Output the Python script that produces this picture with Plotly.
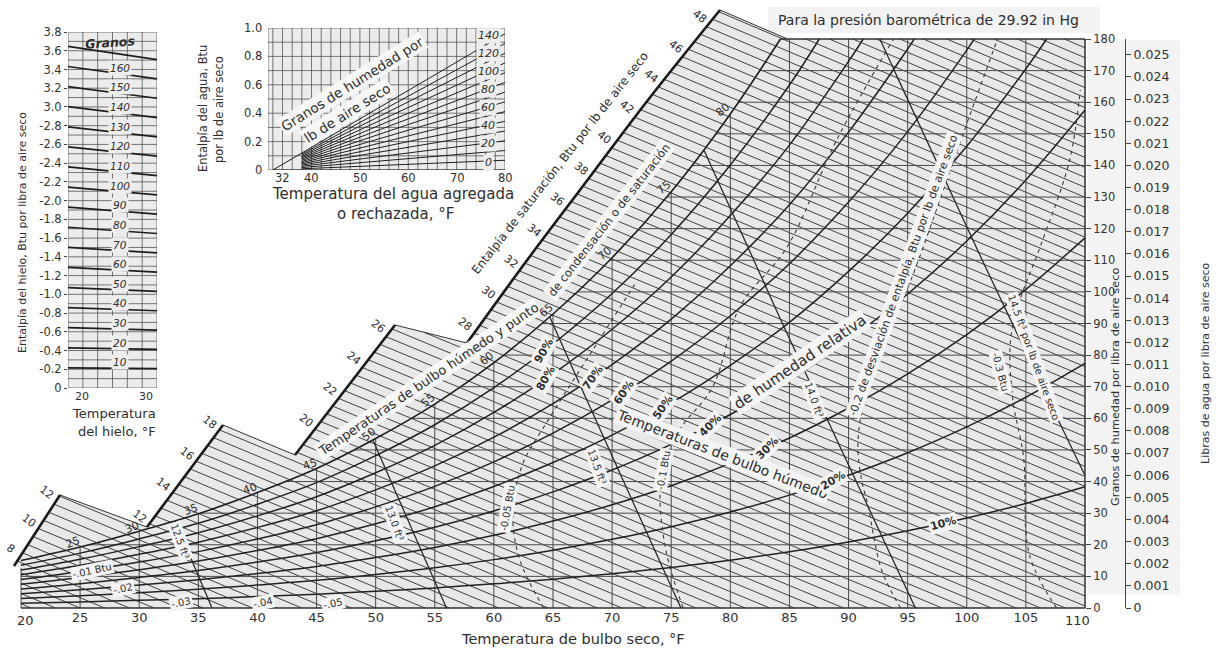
import numpy as np
import plotly.graph_objects as go

# ---------------- values ----------------
dry_bulb_ticks = [20, 25, 30, 35, 40, 45, 50, 55, 60, 65, 70, 75, 80, 85, 90, 95, 100, 105, 110]
grain_ticks = [0, 10, 20, 30, 40, 50, 60, 70, 80, 90, 100, 110, 120, 130, 140, 150, 160, 170, 180]
lb_ticks = [0.000, 0.001, 0.002, 0.003, 0.004, 0.005, 0.006, 0.007, 0.008, 0.009, 0.010, 0.011, 0.012,
            0.013, 0.014, 0.015, 0.016, 0.017, 0.018, 0.019, 0.020, 0.021, 0.022, 0.023, 0.024, 0.025]
lb_tick_text = ["0"] + ["%.3f" % v for v in lb_ticks[1:]]

# saturation humidity (grains per lb dry air) at the dry-bulb temperatures
sat_temp = [20, 25, 30, 35, 40, 45, 50, 55, 60, 65, 70, 75, 80, 85, 90, 95, 100, 105, 110]
sat_grains = [15.0, 19.3, 24.3, 29.8, 36.5, 44.1, 53.6, 64.5, 77.6, 93.0, 110.8, 131.7, 156.3,
              184.6, 218.3, 257.1, 302.3, 355.1, 416.4]

rh_levels = [10, 20, 30, 40, 50, 60, 70, 80, 90]
rh_label_T = [98.0, 88.7, 83.1, 78.3, 74.3, 71.0, 68.4, 64.4, 64.2]

volume_levels = [12.5, 13.0, 13.5, 14.0, 14.5]
volume_labels = ["12.5 ft³", "13.0 ft³", "13.5 ft³", "14.0 ft³", "14.5 ft³ por lb de aire seco"]

enthalpy_hatch = [5.0 + 0.5 * i for i in range(100)]
wet_bulb_labels = [25, 30, 35, 40, 45, 50, 55, 60, 65, 70, 75, 80]

scale_A = [8, 10, 12]
scale_B = [12, 14, 16, 18]
scale_C = [20, 22, 24, 26]
scale_D = [28, 30, 32, 34, 36, 38, 40, 42, 44, 46, 48]

# enthalpy-deviation curves (dashed): dry bulb F, grains
dev005_T = [64.2, 62.2, 61.6, 62.4, 64.6, 68.1, 71.9]
dev005_G = [0.0, 15.2, 29.4, 45.2, 59.5, 80.1, 102.3]
dev01_T = [76.0, 74.6, 74.05, 74.3, 75.7, 78.5, 80.8, 84.8, 89.0, 93.8]
dev01_G = [0.0, 17.4, 34.2, 43.7, 56.3, 69.9, 95.2, 114.2, 148.1, 180.0]
dev02_T = [94.4, 92.8, 91.6, 91.1, 90.8, 91.8, 95.5, 99.2, 102.6]
dev02_G = [0.0, 12.0, 33.2, 40.5, 53.1, 72.1, 106.0, 144.9, 180.0]
dev03_T = [107.6, 105.3, 104.8, 103.9, 103.7, 104.5, 106.2, 108.7, 109.6]
dev03_G = [0.0, 16.8, 47.8, 65.8, 84.8, 97.4, 114.2, 141.7, 163.9]

# ice-enthalpy inset
ice_grains = [10, 20, 30, 40, 50, 60, 70, 80, 90, 100, 110, 120, 130, 140, 150, 160, 170]
ice_label_grains = [10, 20, 30, 40, 50, 60, 70, 80, 90, 100, 110, 120, 130, 140, 150, 160]
ice_y_ticks = [0, 0.2, 0.4, 0.6, 0.8, 1.0, 1.2, 1.4, 1.6, 1.8, 2.0, 2.2, 2.4, 2.6, 2.8, 3.0, 3.2, 3.4, 3.6, 3.8]
ice_y_text = ["0", "-0.2", "-0.4", "-0.6", "-0.8", "-1.0", "-1.2", "-1.4", "-1.6", "-1.8", "-2.0",
              "-2.2", "-2.4", "-2.6", "-2.8", "3.0", "3.2", "3.4", "3.6", "3.8"]
ice_x_ticks = [20, 30]

# water-enthalpy inset
water_grains = [10, 20, 30, 40, 50, 60, 70, 80, 90, 100, 110, 120, 130, 140]
water_label_grains = [0, 20, 40, 60, 80, 100, 120, 140]
water_x_ticks = [32, 40, 50, 60, 70, 80]
water_y_ticks = [0, 0.2, 0.4, 0.6, 0.8, 1.0]
water_y_text = ["0", "0.2", "0.4", "0.6", "0.8", "1.0"]

# ---------------- geometry helpers ----------------
W, H = 1221, 650
FONT = "DejaVu Sans"
INK = "#2e2e2e"
MX0, MX1, MY0, MY1 = 21.0, 1085.0, 608.0, 39.0          # pixel frame of 20..110 F, 0..180 gr
SX = (MX1 - MX0) / 90.0
SY = (MY0 - MY1) / 180.0
x_range = [20 - MX0 / SX, 20 + (W - MX0) / SX]
y_range = [-(H - MY0) / SY, MY0 / SY]


def T_of_px(px):
    return 20 + (px - MX0) / SX


def G_of_py(py):
    return (MY0 - py) / SY


P_ATM = 14.696
lsT = np.array(sat_temp, float)
lsG = np.log(np.array(sat_grains, float))


def gsat(T):
    return np.exp(np.interp(T, lsT, lsG))


def tsat(G):
    return np.interp(np.log(np.maximum(G, 1e-6)), lsG, lsT)


def enth(T, G):
    w = G / 7000.0
    return 0.24 * T + w * (1061.0 + 0.444 * T)


def rh_grains(T, phi):
    ws = gsat(T) / 7000.0
    ps = P_ATM * ws / (0.622 + ws)
    return 7000.0 * 0.622 * phi * ps / (P_ATM - phi * ps)


def joined(segments):
    xs, ys = [], []
    for sx_, sy_ in segments:
        xs += list(sx_) + [None]
        ys += list(sy_) + [None]
    return xs, ys


fig = go.Figure()


def line_trace(xs, ys, color, width, dash=None, shape="linear", axes=("x", "y")):
    fig.add_trace(go.Scatter(x=xs, y=ys, mode="lines", xaxis=axes[0], yaxis=axes[1],
                             line=dict(color=color, width=width, dash=dash, shape=shape),
                             hoverinfo="skip", showlegend=False))


# ---------------- left boundary (stepped enthalpy scale) ----------------
scale_px = {
    "A": [(14, 566), (60, 495)],
    "B": [(147, 527), (223, 425)],
    "C": [(295, 455), (395, 325)],
    "D": [(467, 343), (525, 263), (583, 186), (648, 100), (720, 10)],
}
bnd_px = [(21, 608), (21, 568)] + scale_px["A"] + scale_px["B"] + scale_px["C"] + scale_px["D"]
bnd = [(T_of_px(a), G_of_py(b)) for a, b in bnd_px]
h_top = enth(*bnd[-1])
w180 = 180.0 / 7000.0
T_top = (h_top - w180 * 1061.0) / (0.24 + w180 * 0.444)
bnd.append((T_top, 180.0))
bnd.append((110.0, 180.0))

# region fill
poly = bnd + [(110.0, 0.0), (20.0, 0.0)]
fig.add_trace(go.Scatter(x=[p[0] for p in poly], y=[p[1] for p in poly], mode="lines", fill="toself",
                         fillcolor="#e8e8e8", line=dict(width=0), hoverinfo="skip", showlegend=False))

# enthalpy hatch lines
h_110 = enth(110.0, 0.0)
segs = []
for h in enthalpy_hatch:
    start = None
    for p0, p1 in zip(bnd[:-1], bnd[1:]):
        h0, h1 = enth(*p0), enth(*p1)
        if abs(h1 - h0) < 1e-9:
            continue
        t = (h - h0) / (h1 - h0)
        if 0.0 <= t <= 1.0:
            start = (p0[0] + t * (p1[0] - p0[0]), p0[1] + t * (p1[1] - p0[1]))
            break
    if start is None:
        continue
    if h <= h_110:
        end = (h / 0.24, 0.0)
    else:
        end = (110.0, (h - h_110) / (1061.0 + 0.444 * 110.0) * 7000.0)
    segs.append(([start[0], end[0]], [start[1], end[1]]))
hx, hy = joined(segs)
line_trace(hx, hy, "#383838", 0.95)

# top edges joining the scale steps
edge_pairs = [(scale_px["A"][-1], scale_px["B"][0]), (scale_px["B"][-1], scale_px["C"][0]),
              (scale_px["C"][-1], scale_px["D"][0])]
ex, ey = joined([([T_of_px(a[0]), T_of_px(b[0])], [G_of_py(a[1]), G_of_py(b[1])]) for a, b in edge_pairs]
                + [([bnd[-3][0], T_top], [bnd[-3][1], 180.0])])
line_trace(ex, ey, "#333", 1.0)

# grid: constant dry bulb
gsegs = []
for T in dry_bulb_ticks[:-1]:
    top = G_of_py(568) if T == 20 else min(float(gsat(T)), 180.0)
    gsegs.append(([T, T], [0.0, top]))
# grid: constant moisture
for G in grain_ticks[1:-1]:
    gsegs.append(([max(float(tsat(G)), 20.0), 110.0], [G, G]))
gx, gy = joined(gsegs)
line_trace(gx, gy, "#4a4a4a", 1.0)

# borders
T180 = float(tsat(180.0))
bx, by = joined([([20, 110], [0, 0]), ([110, 110], [0, 180]), ([T180, 110], [180, 180])])
line_trace(bx, by, "#303030", 1.5)

# volume lines
for v in volume_levels:
    K = v * 29.92 / 0.7543
    G = np.linspace(0, 180, 721)
    T = K / (1 + 1.6078 * G / 7000.0) - 459.67
    ok = (T >= tsat(G)) & (T <= 110) & (T >= 20)
    line_trace(T[ok], G[ok], "#2a2a2a", 1.3)

# relative humidity curves
for rh in rh_levels:
    xs, ys = [], []
    for T in sat_temp:
        g = float(rh_grains(T, rh / 100.0))
        if g > 180.0:
            gp = ys[-1]
            Tp = xs[-1]
            t = (np.log(180.0) - np.log(gp)) / (np.log(g) - np.log(gp))
            xs.append(Tp + t * (T - Tp))
            ys.append(180.0)
            break
        xs.append(T)
        ys.append(g)
    line_trace(xs, ys, "#222", 1.5, shape="spline")

# enthalpy deviation curves
for Tl, Gl in [(dev005_T, dev005_G), (dev01_T, dev01_G), (dev02_T, dev02_G), (dev03_T, dev03_G)]:
    line_trace(Tl, Gl, "#3a3a3a", 1.1, dash="4px,4px", shape="spline")

# saturation curve
st = [t for t in sat_temp if t <= 80] + [T180]
line_trace(st, [float(gsat(t)) for t in st], "#1e1e1e", 1.6, shape="spline")

# heavy enthalpy scales
for k in "ABC":
    pts = scale_px[k]
    line_trace([T_of_px(p[0]) for p in pts], [G_of_py(p[1]) for p in pts], "#1a1a1a", 2.6)
line_trace([T_of_px(p[0]) for p in scale_px["D"]], [G_of_py(p[1]) for p in scale_px["D"]], "#1a1a1a", 2.6,
           shape="spline")

# ---------------- annotations ----------------
ann = []


def add_text(x, y, text, size, angle=0, ref="data", bg=None, color=INK, italic=False,
             xshift=0, yshift=0, xanchor="center", yanchor="middle"):
    if ref == "px":
        xr, yr, x, y = "paper", "paper", x / W, 1 - y / H
    elif ref == "data":
        xr, yr = "x", "y"
    else:
        xr, yr = ref
    d = dict(x=x, y=y, xref=xr, yref=yr, text=text, showarrow=False, textangle=angle,
             font=dict(family=FONT, size=size, color=color, style="italic" if italic else "normal"),
             xanchor=xanchor, yanchor=yanchor, xshift=xshift, yshift=yshift)
    if bg:
        d.update(bgcolor=bg, borderpad=1)
    ann.append(d)


def along(pts, frac):
    P = np.array(pts, float)
    d = np.r_[0, np.cumsum(np.hypot(*np.diff(P, axis=0).T))]
    s = frac * d[-1]
    return np.interp(s, d, P[:, 0]), np.interp(s, d, P[:, 1])


# edge tick labels of the dry-bulb axis sit inside the frame
add_text(25, 620, str(dry_bulb_ticks[0]), 13, ref="px")
add_text(1077, 620, str(dry_bulb_ticks[-1]), 13, ref="px")

# text along the chart
add_text(928, 20, "Para la presión barométrica de 29.92 in Hg", 14, ref="px")
add_text(573, 639, "Temperatura de bulbo seco, °F", 14.5, ref="px")
add_text(1115, 387, "Granos de humedad por libra de aire seco", 11.3, angle=-90, ref="px")
add_text(1205, 363, "Libras de agua por libra de aire seco", 11, angle=-90, ref="px")
add_text(560, 163, "Entalpía de saturación, Btu por lb de aire seco", 12, angle=-52, ref="px")
add_text(428, 379, "Temperaturas de bulbo húmedo y punto", 13, angle=-34, ref="px", bg="#f7f7f7")
add_text(609, 220, "de condensación o de saturación", 11.5, angle=-52, ref="px", bg="#f7f7f7")
add_text(722, 454, "Temperaturas de bulbo húmedo", 14, angle=21, ref="px", bg="#f4f4f4")
add_text(800, 362, "de humedad relativa", 15, angle=-34, ref="px", bg="#f4f4f4")
add_text(507, 508, "-0.05 Btu", 10, angle=-80, ref="px", bg="#f4f4f4")
add_text(663, 470, "-0.1 Btu", 10, angle=-80, ref="px", bg="#f4f4f4")
add_text(903, 275, "-0.2 de desviación de entalpía, Btu por lb de aire seco", 11, angle=-70, ref="px",
         bg="#f4f4f4")
add_text(1001, 372, "-0.3 Btu", 10, angle=75, ref="px", bg="#f4f4f4")
for txt, px, py in [("-.01 Btu", 92, 570), ("-.02", 123, 588), ("-.03", 181, 602), ("-.04", 263, 602),
                    ("-.05", 333, 603)]:
    add_text(px, py, txt, 10, angle=-12, ref="px", bg="#f4f4f4")

nominal = {"A": (7.0, 12.0), "B": (11.5, 18.0), "C": (18.0, 26.3), "D": (27.0, 48.6)}
for k, labs in [("A", scale_A), ("B", scale_B), ("C", scale_C), ("D", scale_D)]:
    v0, v1 = nominal[k]
    for v in labs:
        px, py = along(scale_px[k], (v - v0) / (v1 - v0))
        add_text(max(px - 13, 7), py - 3, str(v), 11, angle=38, ref="px")

for t in wet_bulb_labels:
    add_text(t, float(gsat(t)), str(t), 11, angle=(-40 if t >= 50 else -20), xshift=-7, yshift=4)

vol_G = [20.9, 26.9, 44.6, 65.8, 79.4]
vol_dx = [-4, -15, -19, -3, 6]
for v, lab, g, dx in zip(volume_levels, volume_labels, vol_G, vol_dx):
    K = v * 29.92 / 0.7543
    T = K / (1 + 1.6078 * g / 7000.0) - 459.67
    add_text(T, g, lab, 10, angle=70, xshift=dx, bg="#f4f4f4")

rh_angles = [-15, -30, -45, -45, -55, -55, -55, -60, -60]
for rh, tl, ang in zip(rh_levels, rh_label_T, rh_angles):
    add_text(tl, float(rh_grains(tl, rh / 100.0)), "<b>%d%%</b>" % rh, 11, angle=ang, bg="#f4f4f4")

# ---------------- ice inset ----------------
ICE_X = (68, 157)
ICE_Y = (388, 32)
isegs = []
for T in [18, 20, 22, 24, 26, 28, 30]:
    isegs.append(([T, T], [0, 3.8]))
for i in range(39):
    isegs.append(([18, 30], [i * 0.1, i * 0.1]))
ix, iy = joined(isegs)
line_trace(ix, iy, "#555", 0.8, axes=("x4", "y4"))
gl = []
for g in ice_grains:
    gl.append(([18, 30], [g / 7000.0 * (143.35 + 0.485 * (32 - 18)),
                          g / 7000.0 * (143.35 + 0.485 * (32 - 30))]))
gx2, gy2 = joined(gl)
line_trace(gx2, gy2, "#1e1e1e", 1.7, axes=("x4", "y4"))
for g in ice_label_grains:
    add_text(25, g / 7000.0 * (143.35 + 0.485 * 7), str(g), 10.5, ref=("x4", "y4"), italic=True,
             yshift=6, bg="#ededed")
add_text(110, 42, "<b>Granos</b>", 12.5, angle=-4, ref="px", italic=True)
for v, px in zip(ice_x_ticks, [82, 146]):
    add_text(px, 396, str(v), 11, ref="px")
add_text(114, 413, "Temperatura", 13, ref="px")
add_text(117, 431, "del hielo, °F", 13, ref="px")
add_text(23, 233, "Entalpía del hielo, Btu por libra de aire seco", 11, angle=-90, ref="px")

# ---------------- water inset ----------------
wsegs = []
for T in [31] + list(range(32, 81, 2)):
    wsegs.append(([T, T], [0, 1.0]))
for i in range(11):
    wsegs.append(([31, 80], [i * 0.1, i * 0.1]))
wx, wy = joined(wsegs)
line_trace(wx, wy, "#555", 0.8, axes=("x5", "y5"))
fl = []
for g in water_grains:
    t0 = 32.0 if g == water_grains[-1] else 38.0
    t1 = min(80.0, 32.0 + 7000.0 / g)
    fl.append(([t0, t1], [g / 7000.0 * (t0 - 32), g / 7000.0 * (t1 - 32)]))
fx, fy = joined(fl)
line_trace(fx, fy, "#1e1e1e", 1.0, axes=("x5", "y5"))
line_trace([32, 80], [0, 0], "#1e1e1e", 1.2, axes=("x5", "y5"))
for g in water_label_grains:
    add_text(76.5, g / 7000.0 * 44.5, str(g), 11, ref=("x5", "y5"), italic=True, yshift=8, bg="#ededed")
add_text(352, 84, "Granos de humedad por", 13.5, angle=-32, ref="px", bg="#f7f7f7")
add_text(347, 113, "lb de aire seco", 13.5, angle=-32, ref="px", bg="#f7f7f7")
for v, px in zip(water_x_ticks, [282, 311.5, 360, 408.5, 457, 505]):
    add_text(px, 178, str(v), 11.5, ref="px")
for txt, v in zip(water_y_text, water_y_ticks):
    add_text(264, 170 - 142 * v, txt, 11.5, ref="px", xanchor="right")
add_text(393, 194, "Temperatura del agua agregada", 15, ref="px")
add_text(395, 214, "o rechazada, °F", 15, ref="px")
add_text(203, 108, "Entalpía del agua, Btu", 11.5, angle=-90, ref="px")
add_text(219, 110, "por lb de aire seco", 11.5, angle=-90, ref="px")

# axes helper traces
for xa, ya in [("x2", "y2"), ("x2", "y3")]:
    fig.add_trace(go.Scatter(x=[None], y=[None], xaxis=xa, yaxis=ya, showlegend=False, hoverinfo="skip"))

tick_font = dict(family=FONT, size=13, color="#333")
noax = dict(showgrid=False, zeroline=False, showline=False, fixedrange=True)
x_text = [""] + [str(v) for v in dry_bulb_ticks[1:-1]] + [""]
fig.update_layout(
    width=W, height=H, margin=dict(l=0, r=0, t=0, b=0, pad=0, autoexpand=False), autosize=False,
    paper_bgcolor="white", plot_bgcolor="rgba(0,0,0,0)", showlegend=False, hovermode=False,
    xaxis=dict(domain=[0, 1], range=x_range, visible=False, **noax),
    yaxis=dict(domain=[0, 1], range=y_range, visible=False, **noax),
    xaxis2=dict(domain=[MX0 / W, MX1 / W], range=[20, 110], anchor="y2", tickvals=dry_bulb_ticks,
                ticktext=x_text, ticks="", tickfont=tick_font, **noax),
    yaxis2=dict(domain=[1 - MY0 / H, 1 - MY1 / H], range=[0, 180], anchor="x2", side="right",
                tickvals=grain_ticks, ticks="outside", ticklen=5, tickcolor="#444",
                tickfont=dict(family=FONT, size=11.5, color="#333"), **noax),
    yaxis3=dict(overlaying="y2", anchor="free", position=1125 / W, side="right",
                range=[0, 180 / 7000.0], tickvals=lb_ticks, ticktext=lb_tick_text,
                ticks="outside", ticklen=5, tickcolor="#444",
                tickfont=dict(family=FONT, size=12.5, color="#333"),
                showgrid=False, zeroline=False, showline=True, linecolor="#444", linewidth=1.2,
                fixedrange=True),
    xaxis4=dict(domain=[ICE_X[0] / W, ICE_X[1] / W], range=[18, 30], anchor="y4",
                showticklabels=False, ticks="", **noax),
    yaxis4=dict(domain=[1 - ICE_Y[0] / H, 1 - ICE_Y[1] / H], range=[0, 3.8], anchor="x4",
                tickvals=ice_y_ticks, ticktext=ice_y_text, ticks="outside", ticklen=3, tickcolor="#444",
                tickfont=dict(family=FONT, size=11.5, color="#333"), **noax),
    xaxis5=dict(domain=[268 / W, 505 / W], range=[31, 80], anchor="y5", showticklabels=False,
                ticks="", **noax),
    yaxis5=dict(domain=[1 - 170 / H, 1 - 28 / H], range=[0, 1.0], anchor="x5", showticklabels=False,
                ticks="", **noax),
    annotations=ann,
    shapes=[
        dict(type="rect", xref="paper", yref="paper", x0=ICE_X[0] / W, x1=ICE_X[1] / W,
             y0=1 - ICE_Y[0] / H, y1=1 - ICE_Y[1] / H, fillcolor="#ececec", line=dict(width=0), layer="below"),
        dict(type="rect", xref="paper", yref="paper", x0=268 / W, x1=505 / W,
             y0=1 - 170 / H, y1=1 - 28 / H, fillcolor="#ececec", line=dict(width=0), layer="below"),
        dict(type="rect", xref="paper", yref="paper", x0=768 / W, x1=1100 / W,
             y0=1 - 33 / H, y1=1 - 7 / H, fillcolor="#f2f2f2", line=dict(width=0), layer="below"),
        dict(type="rect", xref="paper", yref="paper", x0=1088 / W, x1=1180 / W,
             y0=1 - 595 / H, y1=1 - 40 / H, fillcolor="#f3f3f3", line=dict(width=0), layer="below"),
    ],
)

fig.write_html("out.html", config={"displayModeBar": False},
               post_script="document.body.style.margin='0px';document.body.style.overflow='hidden';")
